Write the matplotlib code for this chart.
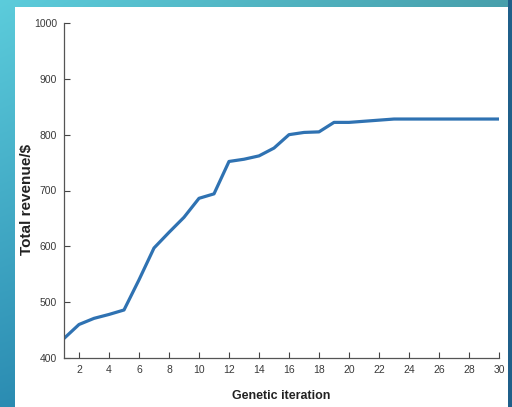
"""Revenue convergence over genetic-algorithm iterations."""

import matplotlib as mpl

mpl.use("Agg")
import matplotlib.pyplot as plt
import numpy as np
from matplotlib.patches import Rectangle

# Best total revenue found at each iteration
iterations = list(range(1, 31))
revenue = [435, 460, 471, 478, 486, 540, 597, 625, 652, 686,
           694, 752, 756, 762, 776, 800, 804, 805, 822, 822,
           824, 826, 828, 828, 828, 828, 828, 828, 828, 828]

x_ticks = list(range(2, 31, 2))
y_ticks = [400, 500, 600, 700, 800, 900, 1000]

SANS = ["Liberation Sans", "DejaVu Sans"]

fig = plt.figure(figsize=(5.12, 4.07), dpi=100)

# slide-style teal backdrop with a white panel on top
bg = fig.add_axes([0, 0, 1, 1], zorder=-10)
bg.set_axis_off()
grad = np.linspace(0, 1, 256)[:, None] * np.ones((1, 256))
horiz = np.linspace(0, 1, 256)[None, :] * np.ones((256, 1))
top = np.array([0.36, 0.80, 0.86])
bottom = np.array([0.17, 0.55, 0.70])
rgb = top[None, None, :] * (1 - grad[..., None]) + bottom[None, None, :] * grad[..., None]
rgb = rgb * (1 - 0.22 * horiz[..., None])
bg.imshow(rgb, extent=[0, 1, 0, 1], aspect="auto", transform=bg.transAxes)
bg.add_patch(Rectangle((15 / 512, 0), (508 - 15) / 512, 1 - 7 / 407,
                       transform=bg.transAxes, facecolor="white", edgecolor="none"))
bg.add_patch(Rectangle((508 / 512, 0), 4 / 512, 1, transform=bg.transAxes,
                       facecolor="#1f5f8a", edgecolor="none"))
bg.set_xlim(0, 1)
bg.set_ylim(0, 1)

ax = fig.add_axes([64 / 512, 1 - 358 / 407, (499 - 64) / 512, (358 - 23) / 407])
ax.set_facecolor("none")
ax.plot(iterations, revenue, color="#2f72b2", linewidth=2.3, solid_capstyle="butt")

ax.set_xlim(1, 30)
ax.set_ylim(400, 1000)
ax.set_xticks(x_ticks)
ax.set_yticks(y_ticks)
ax.set_xticklabels([str(t) for t in x_ticks], family=SANS, fontsize=7.5, color="#3a3a3a")
ax.set_yticklabels([str(t) for t in y_ticks], family=SANS, fontsize=7.5, color="#3a3a3a")
ax.tick_params(direction="in", length=4, width=0.8, color="#444444", pad=5)

for side in ("top", "right"):
    ax.spines[side].set_visible(False)
for side in ("left", "bottom"):
    ax.spines[side].set_color("#555555")
    ax.spines[side].set_linewidth(0.9)

ax.set_xlabel("Genetic iteration", family=SANS, fontsize=9, fontweight="bold",
              color="#222222")
ax.set_ylabel("Total revenue/$", family=SANS, fontsize=11, fontweight="bold",
              color="#222222")
ax.xaxis.set_label_coords(0.499, -0.095)
ax.yaxis.set_label_coords(-0.07, 0.472)

fig.savefig("out.png", dpi=100)
